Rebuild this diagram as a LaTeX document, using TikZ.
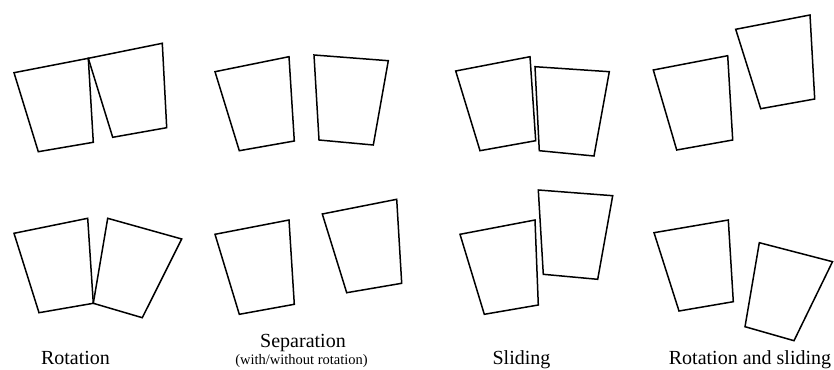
\documentclass[tikz,border=0pt]{standalone}
\usepackage{fontspec}
\setmainfont{Liberation Serif}
\begin{document}
\begin{tikzpicture}[x=1pt,y=-1pt,
  block/.style={draw=black,line width=1.5pt,line join=miter},
  caption/.style={anchor=base,inner sep=0pt,font=\fontsize{20}{24}\selectfont},
  subcaption/.style={anchor=base,inner sep=0pt,font=\fontsize{14.5}{17}\selectfont}]
\useasboundingbox (0,0) rectangle (834,369);
% ---- top row ----
% Rotation
\draw[block] (14,72.7) -- (88.3,58.3) -- (93.3,142.3) -- (38.3,151.7) -- cycle;
\draw[block] (88.3,58.3) -- (162.3,43.3) -- (166.7,127.7) -- (112.7,137.3) -- cycle;
% Separation
\draw[block] (215,71.7) -- (289,56.7) -- (294.3,141) -- (239.3,150.7) -- cycle;
\draw[block] (314,55) -- (388.3,60.7) -- (373.3,145) -- (319,140) -- cycle;
% Sliding
\draw[block] (455.7,71) -- (530,56.7) -- (535.7,140.7) -- (480,150.7) -- cycle;
\draw[block] (535,66.7) -- (609.3,71.7) -- (594,156) -- (539.3,150.7) -- cycle;
% Rotation and sliding
\draw[block] (653.3,70) -- (727.7,55.7) -- (732.7,140) -- (676.7,150) -- cycle;
\draw[block] (735.7,29.3) -- (810,15) -- (814.7,99) -- (760.7,108.7) -- cycle;
% ---- bottom row ----
% Rotation
\draw[block] (14,233.3) -- (87.7,218.3) -- (93.3,303.3) -- (39,312.7) -- cycle;
\draw[block] (107.7,218.3) -- (181.7,239) -- (142.3,317.7) -- (93.3,303.3) -- cycle;
% Separation
\draw[block] (215,234.3) -- (289,220) -- (294.3,304.3) -- (239.3,314.3) -- cycle;
\draw[block] (322.3,214) -- (396.7,199.3) -- (401.7,283.3) -- (346.7,292.7) -- cycle;
% Sliding
\draw[block] (460,234.3) -- (535,220) -- (538.3,305) -- (484.3,314.3) -- cycle;
\draw[block] (538.3,190) -- (612.7,195.7) -- (597.7,279.3) -- (543.3,274.3) -- cycle;
% Rotation and sliding
\draw[block] (654,232.7) -- (728.3,220) -- (733.3,301.7) -- (679,311) -- cycle;
\draw[block] (759.3,242.7) -- (832.5,261.7) -- (794,340.7) -- (745,326.7) -- cycle;
% ---- captions ----
\node[caption] (rot) at (75.5,364) {Rotation};
\node[caption] (sep) at (303,347.5) {Separation};
\node[subcaption] (sepsub) at (301.5,364) {(with/without rotation)};
\node[caption] (sli) at (521.5,364) {Sliding};
\node[caption] (rs) at (750,364) {Rotation and sliding};
\end{tikzpicture}
\end{document}
